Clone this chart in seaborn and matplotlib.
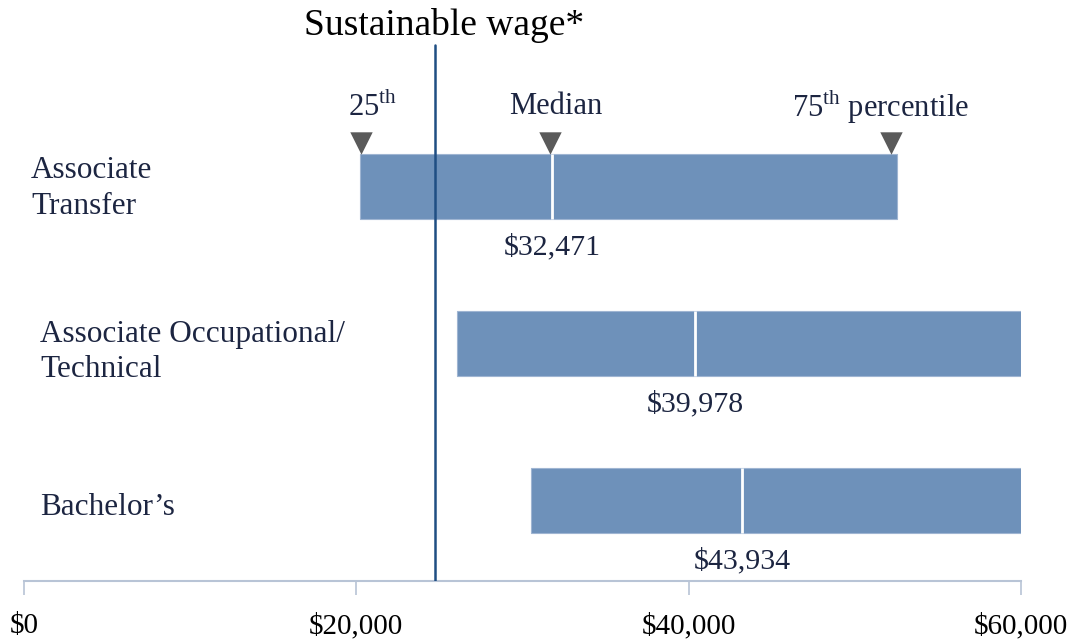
import matplotlib
matplotlib.use("Agg")
import matplotlib.pyplot as plt
import seaborn as sns
import pandas as pd

# ---- data ----
categories = ["Associate\nTransfer", "Associate Occupational/\nTechnical", "Bachelor\u2019s"]
p25 = [20200, 26050, 30500]
p75 = [52550, 60000, 60000]
median_pos = [31780, 40380, 43200]
median_labels = ["$32,471", "$39,978", "$43,934"]
sustainable_wage = 24760
xticks = [0, 20000, 40000, 60000]
xtick_labels = ["$0", "$20,000", "$40,000", "$60,000"]

sns.set_theme(style="white")
plt.rcParams["font.family"] = ["Liberation Serif", "DejaVu Serif"]
plt.rcParams["mathtext.fontset"] = "custom"
plt.rcParams["mathtext.rm"] = "Liberation Serif"

TEXT = "#1C2541"
BAR = "#6E91BA"
AX = "#B8C4D6"

fig = plt.figure(figsize=(10.74, 6.41), dpi=100)
ax = fig.add_axes([24 / 1074, 1 - 581 / 641, (1021 - 24) / 1074, 581 / 641])

df = pd.DataFrame({"cat": categories, "width": [b - a for a, b in zip(p25, p75)]})
bar_h = 0.414
sns.barplot(data=df, x="width", y="cat", orient="h", color=BAR, saturation=1,
            width=bar_h, ax=ax, edgecolor="#9FB5D2", linewidth=0.8)
for patch, left in zip(ax.patches, p25):
    patch.set_x(left)

# median lines and labels
for i, (m, lab) in enumerate(zip(median_pos, median_labels)):
    ax.vlines(m, i - bar_h / 2, i + bar_h / 2, color="white", lw=2, zorder=3)
    ax.text(m, i + 0.38, lab, ha="center", va="center", fontsize=21.5, color=TEXT)

# category labels
label_x = [31, 40, 40]
label_dy = [0.01, 0.05, 0.04]
for i, (c, lx, dy) in enumerate(zip(categories, label_x, label_dy)):
    ax.text((lx - 24) / 997, i + dy, c, transform=ax.get_yaxis_transform(),
            ha="left", va="center", fontsize=22.5, color=TEXT, linespacing=1.3)

# percentile markers on first bar
mk = [p25[0] + 100, median_pos[0] - 150, p75[0] - 400]
ax.scatter(mk, [-0.283] * 3, marker="v", s=260, color="#5A5A5A", zorder=4, linewidths=0)
ax.text(mk[0] + 700, -0.51, r"25$^{\mathrm{th}}$", ha="center", va="center", fontsize=22, color=TEXT)
ax.text(mk[1] + 400, -0.51, "Median", ha="center", va="center", fontsize=22, color=TEXT)
ax.text(mk[2] - 600, -0.51, r"75$^{\mathrm{th}}$ percentile", ha="center", va="center",
        fontsize=22, color=TEXT)

# sustainable wage line
ax.axvline(sustainable_wage, ymin=0, ymax=(581 - 45) / 581, color="#1F4E83", lw=1.8, zorder=5)
ax.annotate("Sustainable wage*", xy=(sustainable_wage, -1.03), xytext=(6, 0),
            textcoords="offset points", ha="center", va="center", fontsize=27, color="black")

ax.set_xlim(0, 60000)
ax.set_ylim(2.51, -1.191)
ax.set_yticks([])
ax.set_ylabel("")
ax.set_xlabel("")
ax.set_xticks(xticks)
ax.set_xticklabels(xtick_labels, fontsize=21, color="black")
ax.tick_params(axis="x", direction="out", length=10, width=1.2, color=AX, pad=13, bottom=True)
for s in ["top", "right", "left"]:
    ax.spines[s].set_visible(False)
ax.spines["bottom"].set_color(AX)
ax.spines["bottom"].set_linewidth(1.5)
ax.set_facecolor("white")
fig.patch.set_facecolor("white")

fig.savefig("out.png", dpi=100)
